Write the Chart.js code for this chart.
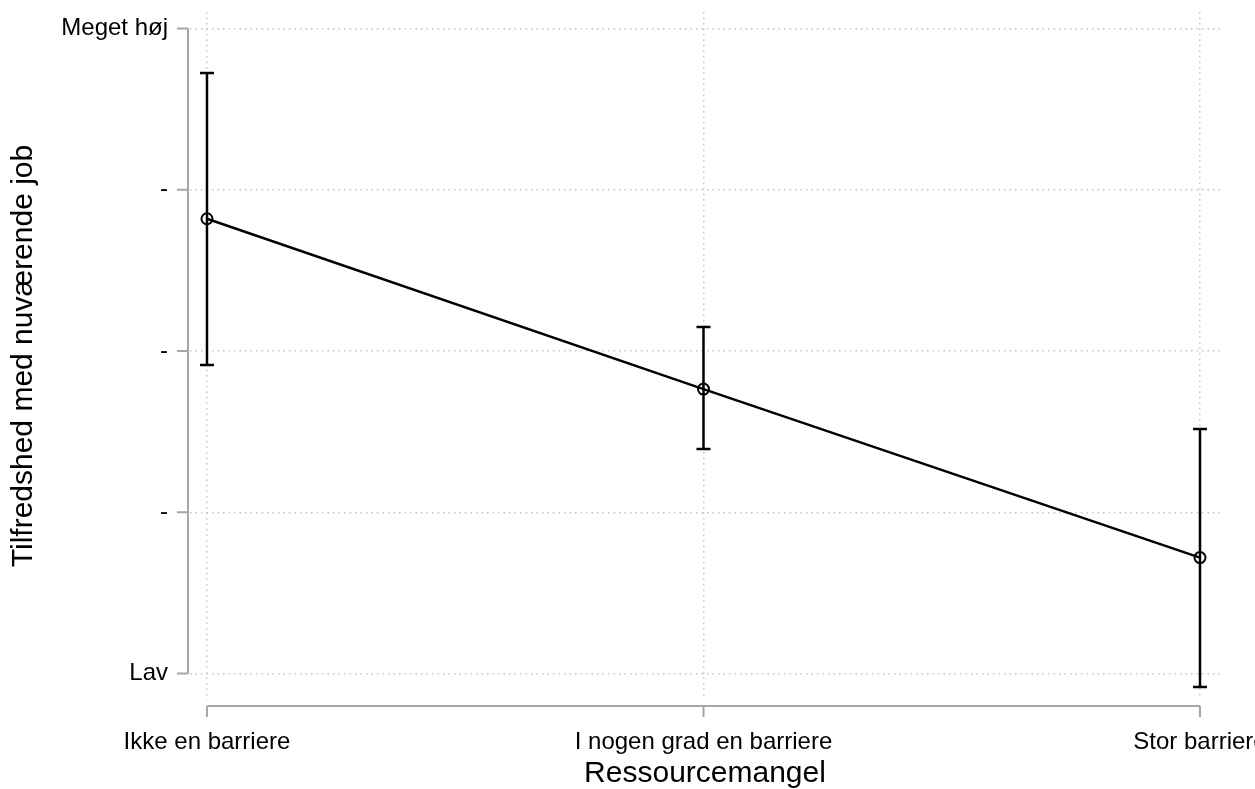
<!DOCTYPE html>
<html>
<head>
<meta charset="utf-8">
<script src="https://cdn.jsdelivr.net/npm/chart.js@4/dist/chart.umd.min.js"></script>
<style>
  html, body { margin: 0; padding: 0; background: #fff; }
  #wrap { width: 1255px; height: 789px; }
</style>
</head>
<body>
<div id="wrap"><canvas id="c" width="1255" height="789"></canvas></div>
<script>
// Categories of resource shortage (x) and predicted job satisfaction (y)
const categories = ['Ikke en barriere', 'I nogen grad en barriere', 'Stor barriere'];
const estimates = [2.82, 1.764, 0.719];
const ciLower = [1.913, 1.392, -0.084];
const ciUpper = [3.724, 2.149, 1.516];
const yTickValues = [0, 1, 2, 3, 4];
const yTickLabels = ['Lav', '-', '-', '-', 'Meget høj'];

const FONT = "'Liberation Sans', Arial, sans-serif";
const AXIS_GREY = '#a6a6a6';
const GRID_GREY = '#c4c4c4';

// Error bars with caps, drawn through the chart scales
const errorBars = {
  id: 'errorBars',
  beforeDatasetsDraw(chart) {
    const { ctx, scales: { x, y } } = chart;
    ctx.save();
    ctx.strokeStyle = '#000';
    ctx.lineWidth = 2.5;
    const cap = 7;
    categories.forEach((_, i) => {
      const px = x.getPixelForValue(i);
      const top = y.getPixelForValue(ciUpper[i]);
      const bot = y.getPixelForValue(ciLower[i]);
      ctx.beginPath();
      ctx.moveTo(px, top); ctx.lineTo(px, bot);
      ctx.moveTo(px - cap, top); ctx.lineTo(px + cap, top);
      ctx.moveTo(px - cap, bot); ctx.lineTo(px + cap, bot);
      ctx.stroke();
    });
    ctx.restore();
  }
};

// Axis lines that span only the labelled range, with outward tick marks
const rangeAxes = {
  id: 'rangeAxes',
  afterDraw(chart) {
    const { ctx, chartArea, scales: { x, y } } = chart;
    ctx.save();
    ctx.strokeStyle = AXIS_GREY;
    ctx.lineWidth = 2;
    // y axis
    const ax = chartArea.left - 2;
    const y0 = y.getPixelForValue(yTickValues[0]);
    const y1 = y.getPixelForValue(yTickValues[yTickValues.length - 1]);
    ctx.beginPath();
    ctx.moveTo(ax, y0); ctx.lineTo(ax, y1);
    yTickValues.forEach(v => {
      const py = y.getPixelForValue(v);
      ctx.moveTo(ax - 11, py); ctx.lineTo(ax, py);
    });
    ctx.stroke();
    // x axis
    const ay = chartArea.bottom + 6;
    const x0 = x.getPixelForValue(0);
    const x1 = x.getPixelForValue(categories.length - 1);
    ctx.beginPath();
    ctx.moveTo(x0, ay); ctx.lineTo(x1, ay);
    categories.forEach((_, i) => {
      const px = x.getPixelForValue(i);
      ctx.moveTo(px, ay); ctx.lineTo(px, ay + 11);
    });
    ctx.stroke();
    ctx.restore();
  }
};

new Chart(document.getElementById('c'), {
  type: 'line',
  data: {
    datasets: [{
      data: estimates.map((v, i) => ({ x: i, y: v })),
      borderColor: '#000',
      borderWidth: 2.5,
      pointRadius: 5.5,
      pointBorderWidth: 2,
      pointBorderColor: '#000',
      pointBackgroundColor: 'rgba(0,0,0,0)',
      tension: 0,
      fill: false
    }]
  },
  options: {
    responsive: false,
    animation: false,
    events: [],
    layout: { padding: { left: 0, top: 12, right: 35, bottom: 0 } },
    plugins: { legend: { display: false }, tooltip: { enabled: false } },
    scales: {
      x: {
        type: 'linear',
        min: -0.0342,
        max: 2.0403,
        afterBuildTicks(s) { s.ticks = categories.map((_, i) => ({ value: i })); },
        afterFit(s) { s.height = 89; s.paddingLeft = 0; s.paddingRight = 0; },
        border: { display: false, dash: [1.5, 4] },
        grid: {
          color: GRID_GREY,
          lineWidth: 1.5,
          drawTicks: false
        },
        ticks: {
          autoSkip: false,
          maxRotation: 0,
          padding: 28,
          color: '#000',
          font: { family: FONT, size: 24 },
          callback: (v) => categories[v]
        },
        title: {
          display: true,
          text: 'Ressourcemangel',
          color: '#000',
          font: { family: FONT, size: 30, lineHeight: 1 },
          padding: 0
        }
      },
      y: {
        type: 'linear',
        min: -0.164,
        max: 4.102,
        afterBuildTicks(s) { s.ticks = yTickValues.map(v => ({ value: v })); },
        afterFit(s) { s.width = 190; s.paddingTop = 0; s.paddingBottom = 0; },
        border: { display: false, dash: [1.5, 4] },
        grid: {
          color: GRID_GREY,
          lineWidth: 1.5,
          drawTicks: false
        },
        ticks: {
          padding: 22,
          color: '#000',
          font: { family: FONT, size: 24 },
          callback: (v) => yTickLabels[yTickValues.indexOf(v)]
        },
        title: {
          display: true,
          text: 'Tilfredshed med nuværende job',
          color: '#000',
          font: { family: FONT, size: 30, lineHeight: 1 },
          padding: { top: 9, bottom: 0 }
        }
      }
    }
  },
  plugins: [errorBars, rangeAxes]
});
</script>
</body>
</html>
